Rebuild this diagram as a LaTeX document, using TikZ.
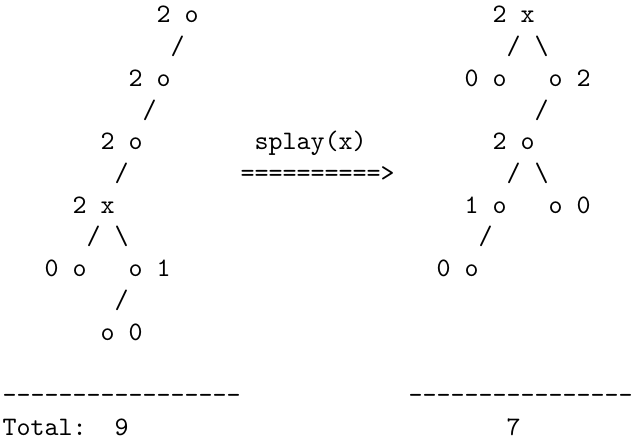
\documentclass[tikz,border=0pt]{standalone}
\usepackage{tikz}
\newcommand{\dashrow}[1]{\foreach \k in {1,...,#1}{-\kern0pt}}

\begin{document}
\begin{tikzpicture}[x=5.25pt,y=-11.8875pt,font=\ttfamily,
  txt/.style={inner sep=0pt,anchor=base west}]
\useasboundingbox (-0.75pt,8.625pt) rectangle (235.85pt,-156.375pt);
% left tree (before)
\foreach \n/\c/\r/\t in {la/11/0/{2 o},lb/9/2/{2 o},lc/7/4/{2 o},lx/5/6/{2 x},
  ld/3/8/{0 o},le/9/8/{o 1},lf/7/10/{o 0}}
  \node[txt] (\n) at (\c,\r) {\t};
\foreach \c/\r [count=\i] in {12/1,10/3,8/5,6/7,8/9}
  \node[txt] (ls\i) at (\c,\r) {/};
\node[txt] (lb1) at (8,7) {\textbackslash};
% right tree (after)
\foreach \n/\c/\r/\t in {rx/35/0/{2 x},ra/33/2/{0 o},rb/39/2/{o 2},rc/35/4/{2 o},
  rd/33/6/{1 o},re/39/6/{o 0},rf/31/8/{0 o}}
  \node[txt] (\n) at (\c,\r) {\t};
\foreach \c/\r [count=\i] in {36/1,38/3,36/5,34/7}
  \node[txt] (rs\i) at (\c,\r) {/};
\foreach \c/\r [count=\i] in {38/1,38/5}
  \node[txt] (rb\i) at (\c,\r) {\textbackslash};
% the step
\node[txt] (op) at (18,4) {splay(x)};
\node[txt] (arr) at (17,5) {==========>};
% totals
\node[txt] (lline) at (0,12) {\dashrow{17}};
\node[txt] (rline) at (29,12) {\dashrow{16}};
\node[txt] (tot) at (0,13) {Total:};
\node[txt] (ltot) at (8,13) {9};
\node[txt] (rtot) at (36,13) {7};
\end{tikzpicture}
\end{document}
